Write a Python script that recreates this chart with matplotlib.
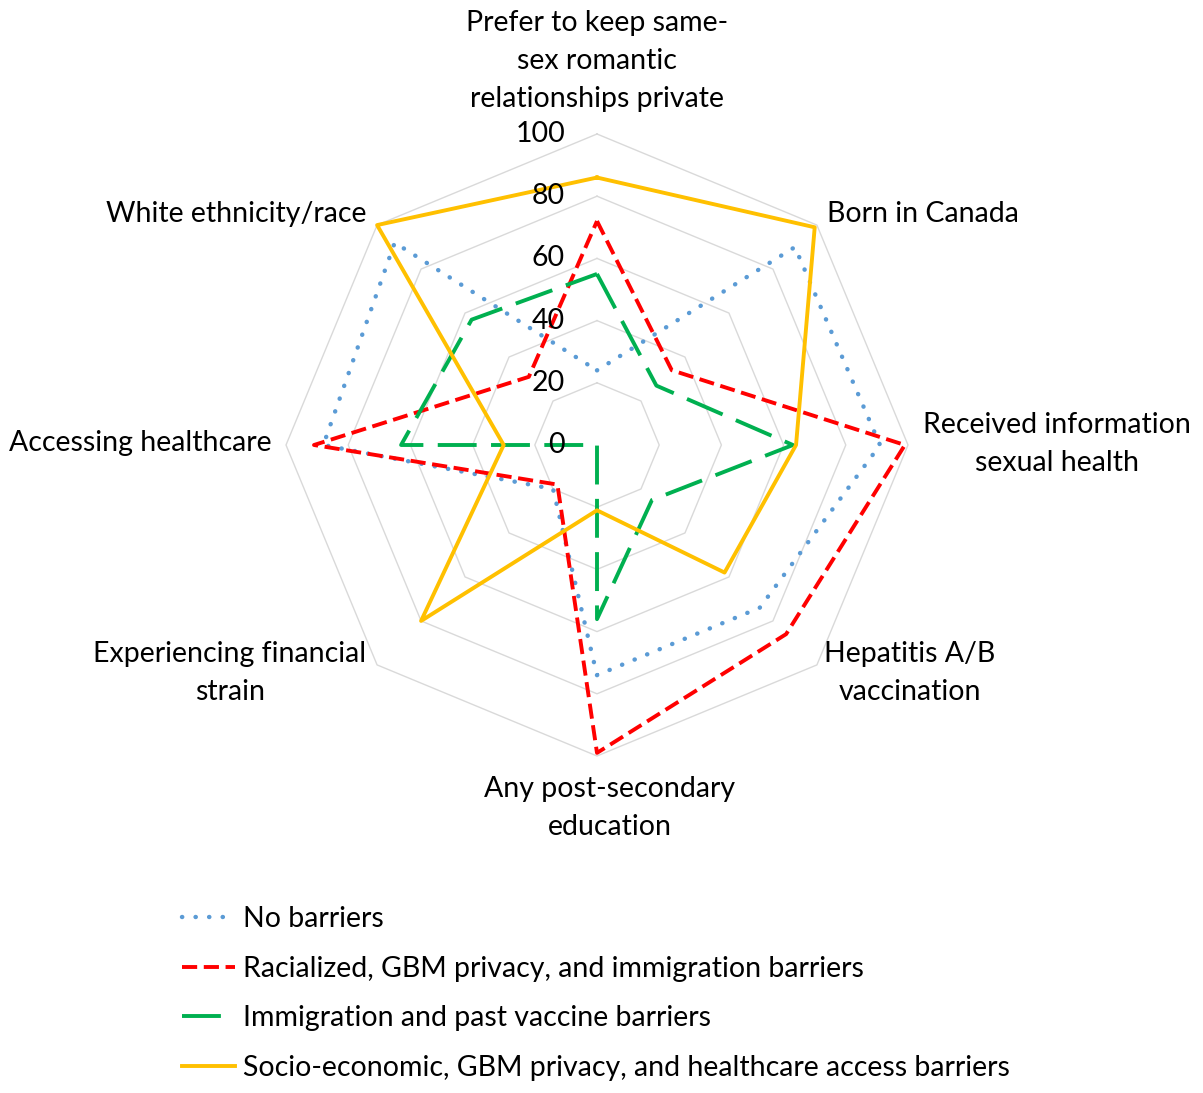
import matplotlib.pyplot as plt
import numpy as np

categories = [
    "Prefer to keep same-\nsex romantic\nrelationships private",
    "Born in Canada",
    "Received information\nsexual health",
    "Hepatitis A/B\nvaccination",
    "Any post-secondary\neducation",
    "Experiencing financial\nstrain",
    "Accessing healthcare",
    "White ethnicity/race",
]
series_names = [
    "No barriers",
    "Racialized, GBM privacy, and immigration barriers",
    "Immigration and past vaccine barriers",
    "Socio-economic, GBM privacy, and healthcare access barriers",
]
no_barriers = [24, 90, 91, 74, 74, 20, 88, 92]
racialized = [72, 34, 99, 86, 99, 18, 91, 31]
immigration = [55, 27, 63, 25, 56, 0, 63, 57]
socio_economic = [86, 99, 64, 58, 21, 80, 30, 100]
radial_ticks = [0, 20, 40, 60, 80, 100]

W, H = 1203, 1093
plt.rcParams['font.family'] = ['Lato', 'DejaVu Sans']
FS = 20.5

fig = plt.figure(figsize=(W / 100, H / 100), dpi=100)
cx, cy, rad = 597, 445, 311
ax = fig.add_axes([(cx - rad) / W, 1 - (cy + rad) / H, 2 * rad / W, 2 * rad / H],
                  projection='polar')
ax.set_theta_zero_location('N')
ax.set_theta_direction(-1)
ax.set_ylim(0, 100)
ax.grid(False)
ax.spines['polar'].set_visible(False)
ax.set_xticks([])
ax.set_yticks([])
ax.patch.set_visible(False)

n = len(categories)
angles = np.linspace(0, 2 * np.pi, n, endpoint=False)
closed = np.append(angles, angles[0])

# octagon grid
for r in radial_ticks[1:]:
    ax.plot(closed, [r] * (n + 1), color='#D9D9D9', lw=1.0, clip_on=False, zorder=1)

for v in radial_ticks:
    ax.annotate(str(v), xy=(0, v), xytext=(-23, 0), textcoords='offset points',
                ha='right', va='center', fontsize=FS, zorder=5)

styles = [
    dict(color='#5B9BD5', linestyle=(0, (0.05, 3.0)), dash_capstyle='round', lw=3.2),
    dict(color='#FF0000', linestyle=(0, (3.9, 1.7)), lw=2.8),
    dict(color='#00B050', linestyle=(0, (10, 3.7)), lw=2.8),
    dict(color='#FFC000', linestyle='-', lw=2.8),
]
for vals, name, st in zip([no_barriers, racialized, immigration, socio_economic],
                          series_names, styles):
    ax.plot(closed, vals + vals[:1], label=name, clip_on=False, zorder=3, **st)

def px(x, y):
    return x / W, 1 - y / H

label_pos = [
    (597, 61, 'center'),
    (827, 214, 'left'),
    (1057, 444, 'center'),
    (910, 673, 'center'),
    (610, 808, 'center'),
    (230, 673, 'center'),
    (272, 443, 'right'),
    (367, 214, 'right'),
]
for text, (x, y, ha) in zip(categories, label_pos):
    fig.text(*px(x, y), text, ha=ha, va='center', fontsize=FS,
             multialignment='center', linespacing=1.58)

fig.legend(loc='upper left', bbox_to_anchor=px(182, 906), frameon=False,
           fontsize=FS, handlelength=1.86, handletextpad=0.28, labelspacing=0.83,
           borderaxespad=0, borderpad=0)

fig.savefig('out.png', dpi=100)
